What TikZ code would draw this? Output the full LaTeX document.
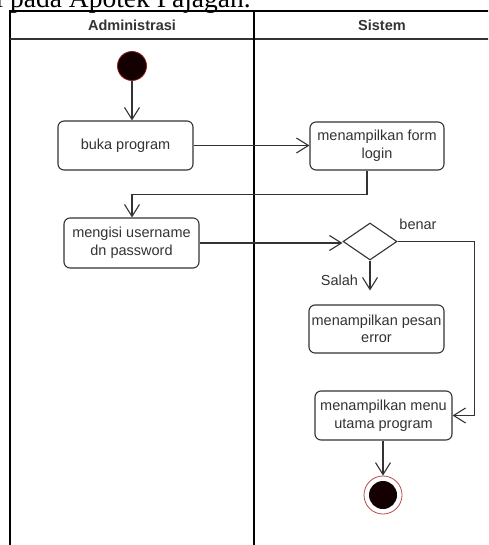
\documentclass[tikz,border=0pt]{standalone}
\usepackage{fontspec}
\setmainfont{Liberation Serif}
\setsansfont{Liberation Sans}
\usetikzlibrary{arrows.meta,shapes.geometric,calc}
\definecolor{ink}{HTML}{333333}
\definecolor{startfill}{HTML}{140000}
\definecolor{startline}{HTML}{8B1A1A}
\definecolor{endring}{HTML}{B84A4A}
\tikzset{
  lbl/.style={font=\sffamily\fontsize{14.5}{17.5}\selectfont, text=ink},
  act/.style={draw=ink, line width=1.1pt, rounded corners=6pt, align=center,
    inner sep=0pt, font=\sffamily\fontsize{14.5}{17.5}\selectfont, text=ink},
  lane/.style={draw=black, line width=1.4pt},
  arr/.style={draw=ink, line width=1.1pt,
    -{Straight Barb[length=12pt,width=15pt,line width=1.1pt]}},
  hdr/.style={font=\sffamily\bfseries\fontsize{14.5}{17.5}\selectfont, text=ink},
}
\begin{document}
\begin{tikzpicture}[x=1pt,y=-1pt]
  \useasboundingbox (0,0) rectangle (488,545);
  \clip (0,0) rectangle (488,545);
  \fill[white] (0,0) rectangle (488,545);

  % caption line above the diagram
  \node[anchor=base west, inner sep=0pt, font=\fontsize{27.5}{30}\selectfont]
    (caption) at (-4.6,8) {i pada Apotek Pajagan.};

  % swimlane frame
  \draw[lane] (10,560) -- (10,11) -- (500,11);
  \draw[draw=black!80, line width=1.6pt] (10,39) -- (500,39);
  \draw[lane] (254,11) -- (254,560);
  \node[hdr] (laneA) at (132,25.5) {Administrasi};
  \node[hdr] (laneB) at (382,25.5) {Sistem};

  % activities
  \node[circle, fill=startfill, draw=startline, line width=0.8pt,
    minimum size=29pt, inner sep=0pt] (start) at (132,66) {};
  \node[act, minimum width=135pt, minimum height=49pt] (buka) at (125.5,145.5)
    {buka program};
  \node[act, minimum width=134pt, minimum height=48pt] (form) at (377,146)
    {menampilkan form\\login};
  \node[act, minimum width=135pt, minimum height=50pt] (isi) at (131.5,243)
    {mengisi username\\dn password};
  \node[diamond, draw=ink, line width=1.1pt, minimum width=54pt,
    minimum height=37pt, inner sep=0pt, aspect=1.46] (dec) at (370,241.5) {};
  \node[act, minimum width=135pt, minimum height=48pt] (err) at (376.5,329)
    {menampilkan pesan\\error};
  \node[act, minimum width=137pt, minimum height=49pt] (menu) at (383.5,415.5)
    {menampilkan menu\\utama program};
  \node[circle, draw=endring, line width=0.8pt, fill=white,
    minimum size=38pt, inner sep=0pt] (end) at (383,495) {};
  \node[circle, fill=startfill, minimum size=28pt, inner sep=0pt]
    (endcore) at (end.center) {};

  % guard labels
  \node[lbl] (benar) at (418,224) {benar};
  \node[lbl] (salah) at (339.5,280) {Salah};

  % flows
  \draw[arr] (start.south) -- (start.south |- buka.north);
  \draw[arr] (buka.east) -- (buka.east -| form.west);
  \coordinate (bend) at ([yshift=23pt]isi.north -| start.south);
  \draw[arr] ([xshift=-10pt]form.south) |- (bend) -- (isi.north -| start.south);
  \draw[arr] (isi.east) -- (isi.east -| dec.west);
  \draw[arr] (dec.east) -| ([xshift=22pt]menu.east) -- (menu.east);
  \draw[arr, shorten >=14pt] (dec.south) -- (dec.south |- err.north);
  \draw[arr] (menu.south -| end.north) -- (end.north);
\end{tikzpicture}
\end{document}
